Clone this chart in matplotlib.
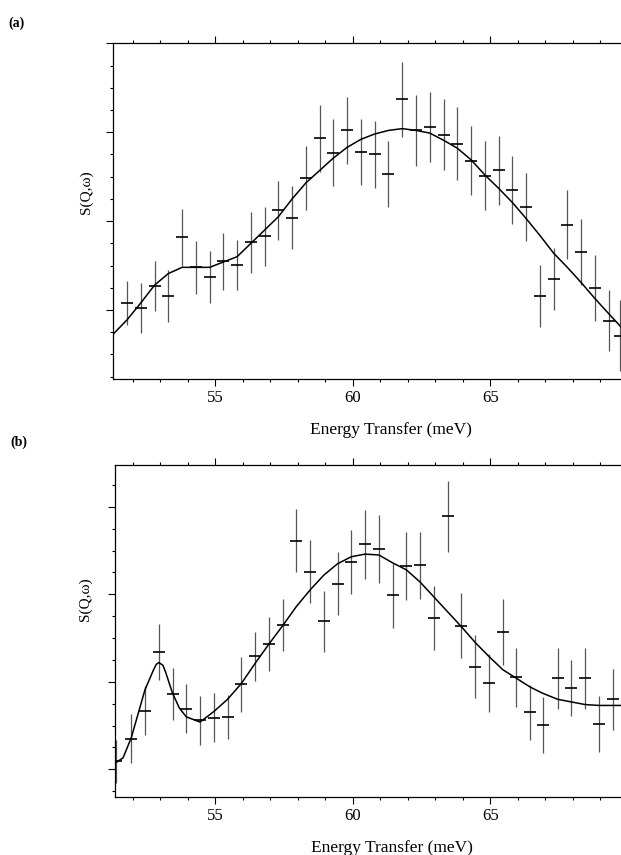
#!/usr/bin/env python3
"""
S(Q,w) vs energy transfer, two panels (a) and (b)
Points with error bars plus the fitted curve
"""
import matplotlib.pyplot as plt
from matplotlib.ticker import MultipleLocator, NullFormatter

plt.rcParams['font.family'] = 'serif'
plt.rcParams['font.serif'] = ['Liberation Serif', 'DejaVu Serif']

# === Panel (a) data ===
energy_a = [51.8, 52.3, 52.8, 53.3, 53.8, 54.3, 54.8, 55.3, 55.8, 56.3, 56.8, 57.3,
            57.8, 58.3, 58.8, 59.3, 59.8, 60.3, 60.8, 61.3, 61.8, 62.3, 62.8, 63.3,
            63.8, 64.3, 64.8, 65.3, 65.8, 66.3, 66.8, 67.3, 67.8, 68.3, 68.8, 69.3, 69.7]
sqw_a = [1.08, 1.02, 1.27, 1.16, 1.82, 1.48, 1.37, 1.55, 1.51, 1.76, 1.83, 2.12,
         2.04, 2.48, 2.93, 2.77, 3.02, 2.78, 2.75, 2.53, 3.37, 3.02, 3.06, 2.97,
         2.87, 2.68, 2.51, 2.57, 2.35, 2.16, 1.16, 1.35, 1.96, 1.65, 1.25, 0.88, 0.71]
err_a = [0.25, 0.28, 0.28, 0.29, 0.32, 0.30, 0.29, 0.32, 0.28, 0.34, 0.33, 0.33,
         0.35, 0.36, 0.38, 0.38, 0.38, 0.37, 0.38, 0.37, 0.42, 0.40, 0.39, 0.40,
         0.41, 0.39, 0.39, 0.39, 0.38, 0.38, 0.35, 0.35, 0.39, 0.37, 0.37, 0.34, 0.40]
fit_energy_a = [51.3, 51.8, 52.3, 52.8, 53.3, 53.8, 54.3, 54.8, 55.3, 55.8, 56.3, 56.8,
                57.3, 57.8, 58.3, 58.8, 59.3, 59.8, 60.3, 60.8, 61.3, 61.8, 62.3, 62.8,
                63.3, 63.8, 64.3, 64.8, 65.3, 65.8, 66.3, 66.8, 67.3, 67.8, 68.3, 68.8,
                69.3, 69.75]
fit_a = [0.73, 0.89, 1.08, 1.28, 1.41, 1.48, 1.48, 1.48, 1.54, 1.60, 1.75, 1.90,
         2.05, 2.25, 2.43, 2.57, 2.71, 2.83, 2.92, 2.98, 3.02, 3.04, 3.02, 2.99,
         2.91, 2.82, 2.69, 2.52, 2.37, 2.21, 2.03, 1.84, 1.64, 1.48, 1.31, 1.13,
         0.96, 0.81]

# === Panel (b) data ===
energy_b = [51.4, 51.95, 52.45, 52.95, 53.45, 53.95, 54.45, 54.95, 55.45, 55.95, 56.45,
            56.95, 57.45, 57.95, 58.45, 58.95, 59.45, 59.95, 60.45, 60.95, 61.45, 61.95,
            62.45, 62.95, 63.45, 63.95, 64.45, 64.95, 65.45, 65.95, 66.45, 66.9, 67.45,
            67.95, 68.45, 68.95, 69.45]
sqw_b = [1.09, 1.35, 1.67, 2.34, 1.86, 1.69, 1.56, 1.59, 1.60, 1.97, 2.29, 2.43,
         2.65, 3.61, 3.26, 2.69, 3.12, 3.37, 3.57, 3.52, 2.99, 3.32, 3.33, 2.73,
         3.89, 2.64, 2.17, 1.99, 2.57, 2.05, 1.65, 1.51, 2.04, 1.93, 2.04, 1.52, 1.80]
err_b = [0.25, 0.28, 0.28, 0.32, 0.30, 0.28, 0.28, 0.28, 0.25, 0.31, 0.28, 0.31,
         0.30, 0.36, 0.36, 0.35, 0.36, 0.37, 0.39, 0.39, 0.37, 0.39, 0.38, 0.37,
         0.41, 0.37, 0.36, 0.33, 0.38, 0.34, 0.31, 0.32, 0.35, 0.32, 0.35, 0.32, 0.35]
fit_energy_b = [51.36, 51.65, 51.95, 52.45, 52.75, 52.86, 52.95, 53.1, 53.2, 53.45, 53.7,
                53.95, 54.45, 54.95, 55.45, 55.95, 56.45, 56.95, 57.45, 57.95, 58.45,
                58.95, 59.45, 59.95, 60.45, 60.95, 61.45, 61.95, 62.45, 62.95, 63.45,
                63.95, 64.45, 64.95, 65.45, 65.95, 66.45, 66.9, 67.45, 67.95, 68.45,
                68.95, 69.45, 69.75]
fit_b = [1.07, 1.13, 1.36, 1.91, 2.13, 2.20, 2.22, 2.19, 2.11, 1.87, 1.70,
         1.60, 1.54, 1.66, 1.80, 1.98, 2.21, 2.43, 2.64, 2.86, 3.05,
         3.22, 3.35, 3.43, 3.46, 3.45, 3.36, 3.28, 3.14, 2.97, 2.80,
         2.63, 2.45, 2.29, 2.14, 2.04, 1.94, 1.87, 1.80, 1.77, 1.74,
         1.73, 1.73, 1.73]


def draw_panel(ax, energy, sqw, err, fit_energy, fit, xlim, ylim):
    """Точки з похибками + крива підгонки"""
    ax.errorbar(energy, sqw, yerr=err, fmt='_', color='black', ecolor='#555555',
                elinewidth=0.9, markersize=9, markeredgewidth=1.2, capsize=0)
    ax.plot(fit_energy, fit, color='black', linewidth=1.1)

    ax.set_xlim(*xlim)
    ax.set_ylim(*ylim)

    ax.xaxis.set_major_locator(MultipleLocator(5))
    ax.xaxis.set_minor_locator(MultipleLocator(1))
    ax.yaxis.set_major_locator(MultipleLocator(1))
    ax.yaxis.set_minor_locator(MultipleLocator(0.25))
    ax.yaxis.set_major_formatter(NullFormatter())

    ax.spines['right'].set_visible(False)
    for sp in ('left', 'top', 'bottom'):
        ax.spines[sp].set_linewidth(0.9)

    ax.tick_params(which='both', direction='out', top=True, right=False,
                   labeltop=False, width=0.8, labelsize=12, pad=3)
    ax.tick_params(which='major', length=5)
    ax.tick_params(which='minor', length=2.5)


fig = plt.figure(figsize=(6.21, 8.55), dpi=100)

# Панель (a)
ax_a = fig.add_axes([0.182, 0.5567, 0.818, 0.393])
draw_panel(ax_a, energy_a, sqw_a, err_a, fit_energy_a, fit_a, (51.29, 69.75), (0.224, 4.003))

# Панель (b)
ax_b = fig.add_axes([0.1852, 0.0684, 0.8148, 0.3877])
draw_panel(ax_b, energy_b, sqw_b, err_b, fit_energy_b, fit_b, (51.36, 69.75), (0.689, 4.478))

# Підписи осей та панелей
fig.text(391 / 621, 1 - 430 / 855, 'Energy Transfer (meV)', ha='center', va='center', fontsize=12.5)
fig.text(392 / 621, 1 - 848 / 855, 'Energy Transfer (meV)', ha='center', va='center', fontsize=12.5)
fig.text(86 / 621, 1 - 192 / 855, 'S(Q,ω)', rotation=90, ha='center', va='center', fontsize=11)
fig.text(85 / 621, 1 - 599 / 855, 'S(Q,ω)', rotation=90, ha='center', va='center', fontsize=11)
fig.text(8 / 621, 1 - 23 / 855, '(a)', ha='left', va='center', fontsize=10, fontweight='bold')
fig.text(10 / 621, 1 - 442 / 855, '(b)', ha='left', va='center', fontsize=10, fontweight='bold')

fig.savefig('out.png', dpi=100)
plt.close()
